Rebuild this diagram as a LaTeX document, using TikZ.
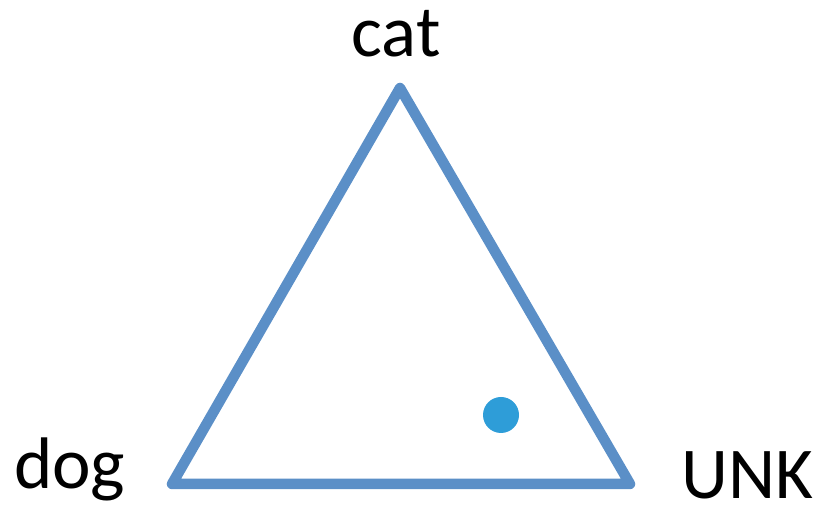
\documentclass[tikz,border=0pt]{standalone}
\usepackage{fontspec}
\setmainfont{Carlito}
\usetikzlibrary{positioning}
\definecolor{triblue}{RGB}{91,143,199}
\definecolor{dotblue}{RGB}{46,157,216}

\begin{document}
\begin{tikzpicture}[
    x=1pt, y=1pt,
    lbl/.style={anchor=base, inner sep=0pt, font=\fontsize{73}{88}\selectfont},
    edge/.style={draw=triblue, line width=10.5pt, line join=round}
]
\useasboundingbox (0,0) rectangle (816,510);
\coordinate (cat) at (400,422);
\coordinate (dog) at (172,26);
\coordinate (unk) at (630,26);
\node[lbl] (catlbl) at (396,453) {cat};
\node[lbl, anchor=base west] (doglbl) at (14,21) {dog};
\node[lbl, anchor=base west] (unklbl) at (681,11) {UNK};
\draw[edge] (cat) -- (dog) -- (unk) -- cycle;
\fill[dotblue] (501,95) circle (18);
\end{tikzpicture}
\end{document}
